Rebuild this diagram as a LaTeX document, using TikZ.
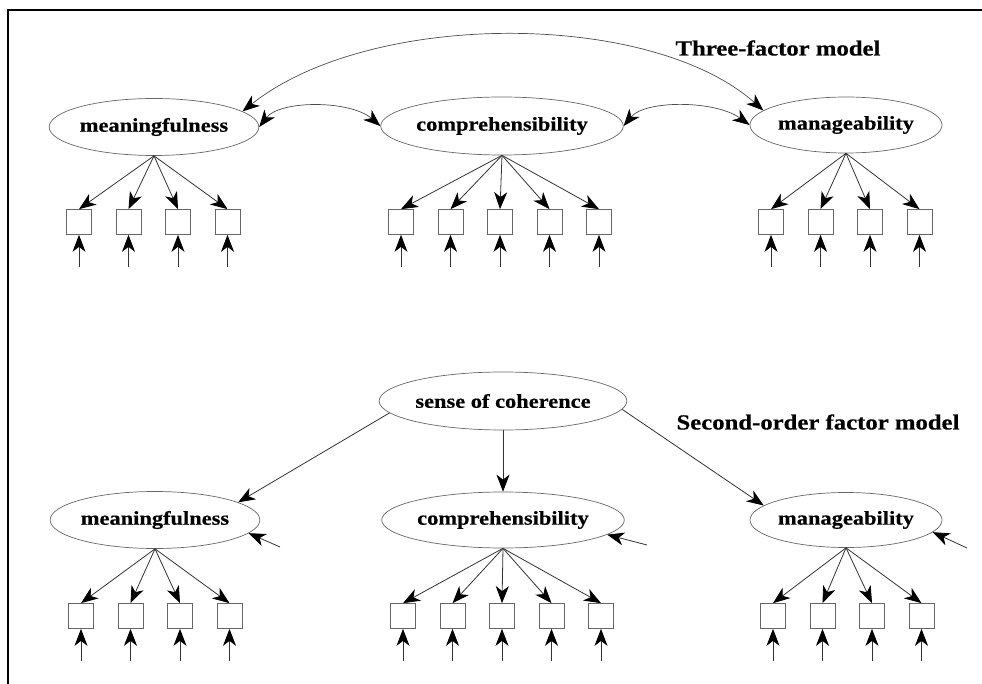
\documentclass[tikz,border=0pt]{standalone}
\usepackage{fontspec}
\newfontfamily\diagfont[FakeStretch=1.15,FakeBold=0.5]{Liberation Serif}
\usetikzlibrary{shapes.geometric,arrows.meta}

\begin{document}
\begin{tikzpicture}[x=1pt,y=-1pt]

\tikzstyle{factor} = [ellipse, draw=black!60, line width=0.7pt, inner sep=0, font=\diagfont\bfseries\fontsize{19.5}{22}\selectfont, text=black]
\tikzstyle{indicator} = [rectangle, draw=black!60, line width=0.7pt, minimum size=25pt, inner sep=0]
\tikzstyle{semarc} = [-{Stealth[length=17pt,width=13pt,inset=5pt,color=black]}, draw=black!80, line width=0.8pt]
\tikzstyle{corarc} = [{Stealth[length=17pt,width=13pt,inset=5pt,color=black]}-{Stealth[length=17pt,width=13pt,inset=5pt,color=black]}, draw=black!70, line width=0.7pt]
\tikzstyle{title} = [font=\diagfont\bfseries\fontsize{21.5}{24}\selectfont, inner sep=0]

\useasboundingbox (0,0) rectangle (982,684);
\draw[line width=1.6pt] (8,684) -- (8,10) -- (982,10);

% three-factor model
\node[factor, minimum width=188pt, minimum height=57pt] (mt) at (154,127) {meaningfulness};
\node[factor, minimum width=222pt, minimum height=58pt] (ct) at (502,126) {comprehensibility};
\node[factor, minimum width=180pt, minimum height=56pt] (at) at (846,125) {manageability};
\node[title] (ttl1) at (778,48) {Three-factor model};

\draw[corarc] (mt.10) .. controls (370,10) and (650,10) .. (at.170);
\draw[corarc] (mt.east) .. controls (280,100) and (350,100) .. (ct.west);
\draw[corarc] (ct.east) .. controls (645,100) and (715,100) .. (at.west);

% second-order factor model
\node[factor, minimum width=220pt, minimum height=58pt] (soc) at (503,401) {sense of coherence};
\node[factor, minimum width=189pt, minimum height=57pt] (mb) at (155,520) {meaningfulness};
\node[factor, minimum width=222pt, minimum height=56pt] (cb) at (503,520) {comprehensibility};
\node[factor, minimum width=179pt, minimum height=55pt] (ab) at (846,520) {manageability};
\node[title] (ttl2) at (818,422) {Second-order factor model};

\draw[semarc] (soc.186) -- (mb.12);
\draw[semarc] (soc.south) -- (cb.north);
\draw[semarc] (soc.-4) -- (ab.170);

\coordinate (md) at (280,547);
\coordinate (cd) at (647,545);
\coordinate (ad) at (967,548);
\draw[semarc] (md) -- (mb.-8);
\draw[semarc] (cd) -- (cb.-8);
\draw[semarc] (ad) -- (ab.-8);

% indicators with their errors
\foreach \grp/\first/\count/\row in {mt/79/4/222, ct/401/5/222, at/771/4/222, mb/81/4/616, cb/403/5/616, ab/773/4/616} {
  \foreach \i in {1,...,\count} {
    \pgfmathsetmacro{\bx}{\first+49.5*(\i-1)}
    \node[indicator] (\grp\i) at (\bx,\row) {};
    \coordinate (\grp e\i) at (\bx,\row+45);
    \draw[semarc] (\grp.south) -- (\grp\i.north);
    \draw[semarc] (\grp e\i) -- (\grp\i.south);
  }
}

\end{tikzpicture}
\end{document}
